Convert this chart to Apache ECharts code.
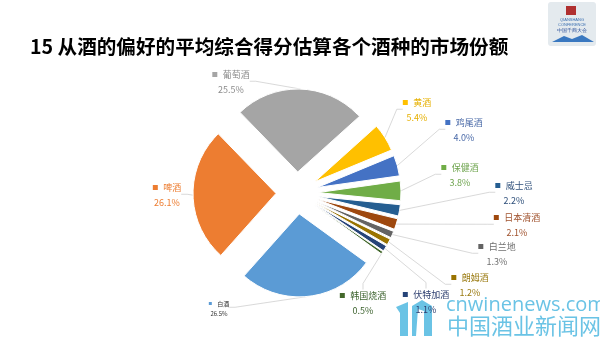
<!DOCTYPE html>
<html>
<head>
<meta charset="utf-8">
<script src="https://cdn.jsdelivr.net/npm/echarts@6/dist/echarts.min.js"></script>
<style>html,body{margin:0;padding:0;background:#fff}#c{width:600px;height:338px}</style>
</head>
<body>
<div id="c"></div>
<script>
var categories = ['白酒','啤酒','葡萄酒','黄酒','鸡尾酒','保健酒','威士忌','日本清酒','白兰地','朗姆酒','伏特加酒','韩国烧酒'];
var shares = [26.5, 26.1, 25.5, 5.4, 4.0, 3.8, 2.2, 2.1, 1.3, 1.2, 1.1, 0.5];
var sliceColors = ['#5B9BD5','#ED7D31','#A5A5A5','#FFC000','#4472C4','#70AD47','#255E91','#9E480E','#636363','#997300','#264478','#43682B'];
var labelColors = ['#333333','#ED7D31','#8C8C8C','#E6B000','#4A6AA8','#70A550','#2E4F7A','#A0522D','#707070','#9A7A10','#2E3F70','#3E6430'];
var labelPos = [[219,308],[167,195],[231,82],[417,110],[464,130],[460,175],[514,193],[517,225],[497,254],[470,285],[426,302],[363,303]];
var titleText = '15 从酒的偏好的平均综合得分估算各个酒种的市场份额';

var FONT = '"Noto Sans CJK SC","Noto Sans",sans-serif';
var CENTER = [297, 193];
var R = 83, OFFSET = 21, START = 324;

var sliceData = categories.map(function (name, i) {
  return { name: name, value: shares[i], selected: true, itemStyle: { color: sliceColors[i] } };
});
var labelData = categories.map(function (name, i) {
  var small = i === 0;
  return {
    name: name,
    value: shares[i],
    label: {
      formatter: '{m|}  {n|' + name + '}\n{p|' + shares[i].toFixed(1) + '%}',
      rich: {
        m: { width: small ? 3 : 5, height: small ? 3 : 5, backgroundColor: sliceColors[i] },
        n: { color: labelColors[i], fontSize: small ? 6 : 9, fontFamily: FONT, lineHeight: small ? 9 : 15 },
        p: { color: labelColors[i], fontSize: small ? 6 : 9, fontFamily: FONT, lineHeight: small ? 9 : 15, align: 'center' }
      }
    }
  };
});

var WM = 'rgba(80,185,225,0.85)';
var chart = echarts.init(document.getElementById('c'), null, { renderer: 'canvas' });
chart.setOption({
  backgroundColor: '#ffffff',
  animation: false,
  title: {
    text: titleText,
    left: 25, top: 32,
    textStyle: { fontSize: 19.6, fontWeight: 'bold', color: '#000', fontFamily: FONT }
  },
  graphic: [
    { type: 'rect', shape: { x: 548, y: 2, width: 48, height: 44, r: 3 }, style: { fill: '#e4eaee' } },
    { type: 'rect', shape: { x: 566, y: 6, width: 10, height: 9 }, style: { fill: '#b03030' } },
    { type: 'text', style: { x: 572, y: 17, text: 'QIANSHANG\nCONFERENCE', fontSize: 4, fill: '#3a6fb0', align: 'center', lineHeight: 5 } },
    { type: 'text', style: { x: 572, y: 28, text: '中国千商大会', fontSize: 5, fill: '#2a4f9a', align: 'center' } },
    { type: 'polygon', shape: { points: [[552, 42], [564, 36], [572, 39], [582, 35], [594, 42]] }, style: { fill: '#3a78c0' } },
    { type: 'text', style: { x: 446, y: 295, text: 'cnwinenews.com', fontSize: 20, fill: WM, fontFamily: '"Open Sans",sans-serif' } },
    { type: 'text', style: { x: 447, y: 315, text: '中国酒业新闻网', fontSize: 22, fill: WM, fontFamily: FONT } },
    { type: 'polygon', shape: { points: [[396, 307], [408, 302], [408, 336], [400, 336], [400, 313]] }, style: { fill: WM } },
    { type: 'polygon', shape: { points: [[412, 306], [422, 300], [432, 306], [432, 336], [424, 336], [424, 311], [418, 309], [416, 336], [412, 336]] }, style: { fill: WM } }
  ],
  series: [{
    type: 'pie',
    center: CENTER,
    radius: [0, R],
    startAngle: START,
    clockwise: true,
    selectedMode: 'multiple',
    selectedOffset: OFFSET,
    silent: true,
    itemStyle: { borderColor: '#fff', borderWidth: 1 },
    select: { itemStyle: { borderColor: '#fff', borderWidth: 1 } },
    label: { show: false },
    labelLine: { show: false },
    emphasis: { disabled: true },
    data: sliceData
  }, {
    type: 'pie',
    center: CENTER,
    radius: [0, R + OFFSET],
    startAngle: START,
    clockwise: true,
    silent: true,
    z: 1,
    itemStyle: { color: 'rgba(0,0,0,0)' },
    avoidLabelOverlap: false,
    label: { show: true, position: 'outside', align: 'center', fontFamily: FONT },
    labelLine: { show: true, length: 6, length2: 6, lineStyle: { color: '#cfcfcf', width: 0.8 } },
    labelLayout: function (p) {
      var pos = labelPos[p.dataIndex];
      return { x: pos[0], y: pos[1], align: 'center', verticalAlign: 'middle', moveOverlap: false };
    },
    emphasis: { disabled: true },
    data: labelData
  }]
});
</script>
</body>
</html>
